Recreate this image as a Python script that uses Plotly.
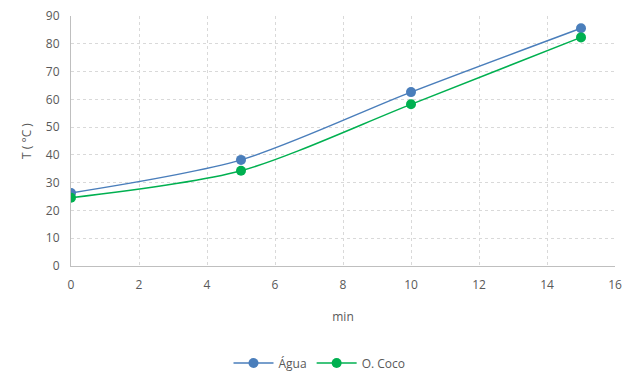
import plotly.graph_objects as go

minutes = [0, 5, 10, 15]
agua = [26.3, 38.2, 62.6, 85.6]
coco = [24.6, 34.3, 58.2, 82.3]

fig = go.Figure()
fig.add_trace(go.Scatter(x=minutes, y=agua, name="Água", mode="lines+markers",
                         line=dict(color="#4a7ebb", width=1.5, shape="spline", smoothing=0.8),
                         marker=dict(size=10, color="#4a7ebb")))
fig.add_trace(go.Scatter(x=minutes, y=coco, name="O. Coco", mode="lines+markers",
                         line=dict(color="#00b050", width=1.5, shape="spline", smoothing=0.8),
                         marker=dict(size=10, color="#00b050")))

tick_font = dict(family="Open Sans, Liberation Sans, sans-serif", size=12, color="#595959")
fig.update_layout(
    width=639, height=373,
    margin=dict(l=71, r=24, t=16, b=107, autoexpand=False),
    plot_bgcolor="white", paper_bgcolor="white",
    font=tick_font,
    showlegend=True,
    legend=dict(orientation="h", x=0.5, xanchor="center", xref="container",
                y=0.027, yanchor="middle", yref="container", font=tick_font,
                itemwidth=40),
    xaxis=dict(range=[0, 16], dtick=2, showgrid=True, gridcolor="#d9d9d9", griddash="dot",
               showline=True, linecolor="#bfbfbf", zeroline=False, ticks="",
               ticklabelstandoff=8, automargin=False,
               title=dict(text="min", font=tick_font, standoff=20)),
    yaxis=dict(range=[0, 90], dtick=10, showgrid=True, gridcolor="#d9d9d9", griddash="dot",
               showline=True, linecolor="#bfbfbf", zeroline=False, ticks="",
               ticklabelstandoff=8, automargin=False,
               title=dict(text="T ( °C )", font=tick_font, standoff=11)),
)
fig.write_html("out.html")
